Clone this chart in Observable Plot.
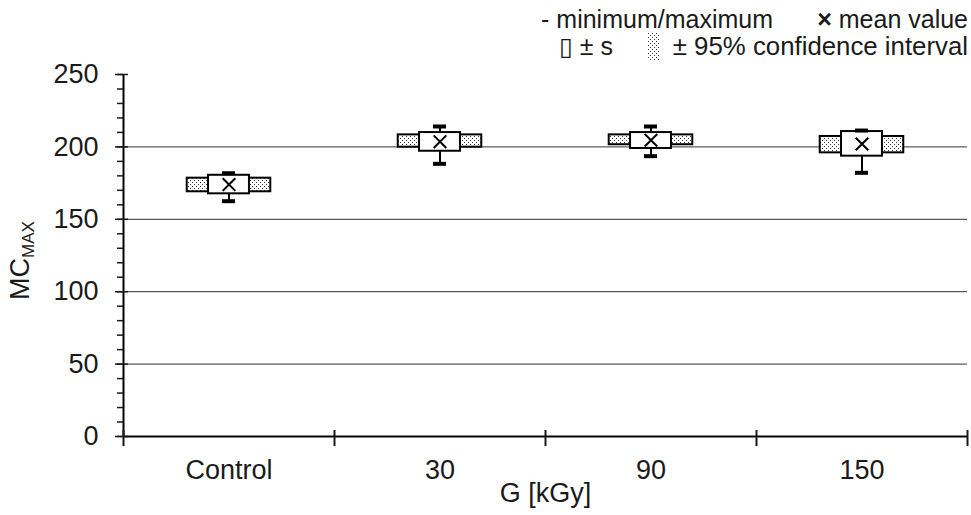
<!DOCTYPE html>
<html>
<head>
<meta charset="utf-8">
<script src="https://cdn.jsdelivr.net/npm/d3@7"></script>
<script src="https://cdn.jsdelivr.net/npm/@observablehq/plot@0.6"></script>
<style>
  body { margin: 0; background: #fff; }
  #legend { position: relative; z-index: 1; width: 971px; height: 50px; font: 25px "Liberation Sans", Arial, sans-serif; color: #1a1a1a; }
  #legend span { position: absolute; white-space: nowrap; line-height: 25px; }
  #legend svg { position: absolute; }
</style>
</head>
<body>
<!-- shared stipple fill for the confidence-interval boxes -->
<svg width="0" height="0" style="position:absolute">
  <defs>
    <pattern id="stipple" width="4" height="4" patternUnits="userSpaceOnUse">
      <rect width="4" height="4" fill="#fff"></rect>
      <rect x="0" y="0" width="1" height="1" fill="#333"></rect>
      <rect x="2" y="2" width="1" height="1" fill="#333"></rect>
    </pattern>
  </defs>
</svg>
<div id="legend">
  <span style="right:198px;top:7px">- minimum/maximum</span>
  <span style="right:3px;top:7px"><b>×</b> mean value</span>
  <span style="right:358px;top:34px">▯ ± s</span>
  <svg style="left:648px;top:33px" width="12" height="28"><rect width="12" height="28" fill="url(#stipple)"></rect></svg>
  <span style="right:3px;top:34px;font-size:25.8px">± 95% confidence interval</span>
</div>
<div id="chart"></div>
<script>
// MC_MAX per irradiation dose group
const groups = ["Control", "30", "90", "150"];
const meanValue = [174.0, 203.6, 204.6, 202.0];
const sdLower = [167.6, 197.0, 198.9, 193.6];
const sdUpper = [180.4, 209.9, 209.9, 210.6];
const ciLower = [169.0, 199.8, 201.5, 195.9];
const ciUpper = [178.4, 208.3, 208.3, 207.2];
const minValue = [162.5, 188.3, 193.6, 182.1];
const maxValue = [181.8, 214.1, 214.1, 211.3];
const yTicks = [0, 50, 100, 150, 200, 250];
const yMinorTicks = d3.range(0, 251, 10);
const gridValues = [50, 100, 150, 200];

const rows = groups.map((g, i) => ({
  group: g, pos: i + 0.5,
  mean: meanValue[i], sdLo: sdLower[i], sdHi: sdUpper[i],
  ciLo: ciLower[i], ciHi: ciUpper[i], min: minValue[i], max: maxValue[i]
}));
const bounds = d3.range(groups.length + 1);

const ciHalf = 0.198, sdHalf = 0.097, capHalf = 0.031;
const ink = "#1a1a1a";

const chart = Plot.plot({
  width: 971,
  height: 465,
  marginTop: 24,
  marginBottom: 79,
  marginLeft: 123,
  marginRight: 4,
  style: { fontFamily: "'Liberation Sans', Arial, sans-serif", fontSize: "27px", color: ink, background: "transparent" },
  x: { domain: [0, groups.length], axis: null },
  y: { domain: [0, 250], axis: null },
  marks: [
    Plot.ruleY(gridValues, { stroke: "#333", strokeWidth: 1 }),
    // ± 95% confidence interval
    Plot.rect(rows, { x1: d => d.pos - ciHalf, x2: d => d.pos + ciHalf, y1: "ciLo", y2: "ciHi", fill: "url(#stipple)", stroke: "#000", strokeWidth: 2 }),
    // whiskers to minimum / maximum
    Plot.ruleX(rows, { x: "pos", y1: "sdHi", y2: "max", stroke: "#000", strokeWidth: 2 }),
    Plot.ruleX(rows, { x: "pos", y1: "min", y2: "sdLo", stroke: "#000", strokeWidth: 2 }),
    // ± s box
    Plot.rect(rows, { x1: d => d.pos - sdHalf, x2: d => d.pos + sdHalf, y1: "sdLo", y2: "sdHi", fill: "#fff", stroke: "#000", strokeWidth: 2 }),
    // min / max caps
    Plot.ruleY(rows, { y: "max", x1: d => d.pos - capHalf, x2: d => d.pos + capHalf, stroke: "#000", strokeWidth: 4 }),
    Plot.ruleY(rows, { y: "min", x1: d => d.pos - capHalf, x2: d => d.pos + capHalf, stroke: "#000", strokeWidth: 4 }),
    // mean value
    Plot.dot(rows, { x: "pos", y: "mean", symbol: "times", r: 5.8, stroke: "#000", strokeWidth: 2 }),
    // axes
    Plot.ruleX([0], { stroke: "#000", strokeWidth: 2 }),
    Plot.ruleY([0], { stroke: "#000", strokeWidth: 2 }),
    Plot.axisY({ ticks: yMinorTicks, tickSize: 6, tickFormat: () => "", label: null, strokeWidth: 1.5 }),
    Plot.axisY({ ticks: yTicks, tickSize: 13, dx: 5, tickFormat: () => "", label: null, strokeWidth: 1.5 }),
    Plot.axisY({ ticks: yTicks, tickSize: 0, tickPadding: 25, label: null, fontSize: 27 }),
    Plot.axisX({ ticks: bounds, tickSize: 16, dy: -6, tickFormat: () => "", label: null, strokeWidth: 2 }),
    Plot.text(rows, { x: "pos", y: 0, dy: 34, text: "group", fontSize: 27, fill: ink }),
    Plot.text(["G [kGy]"], { frameAnchor: "bottom", dy: 65, fontSize: 27, fill: ink }),
    Plot.text(["MC"], { frameAnchor: "left", textAnchor: "middle", dx: -103, dy: 5, rotate: -90, fontSize: 27, fill: ink })
  ]
});

document.getElementById("chart").append(chart);

// subscript on the y-axis title
d3.select(chart).selectAll("text")
  .filter(function () { return this.textContent === "MC"; })
  .append("tspan")
  .attr("font-size", 17)
  .attr("dy", 5)
  .text("MAX");
</script>
</body>
</html>
